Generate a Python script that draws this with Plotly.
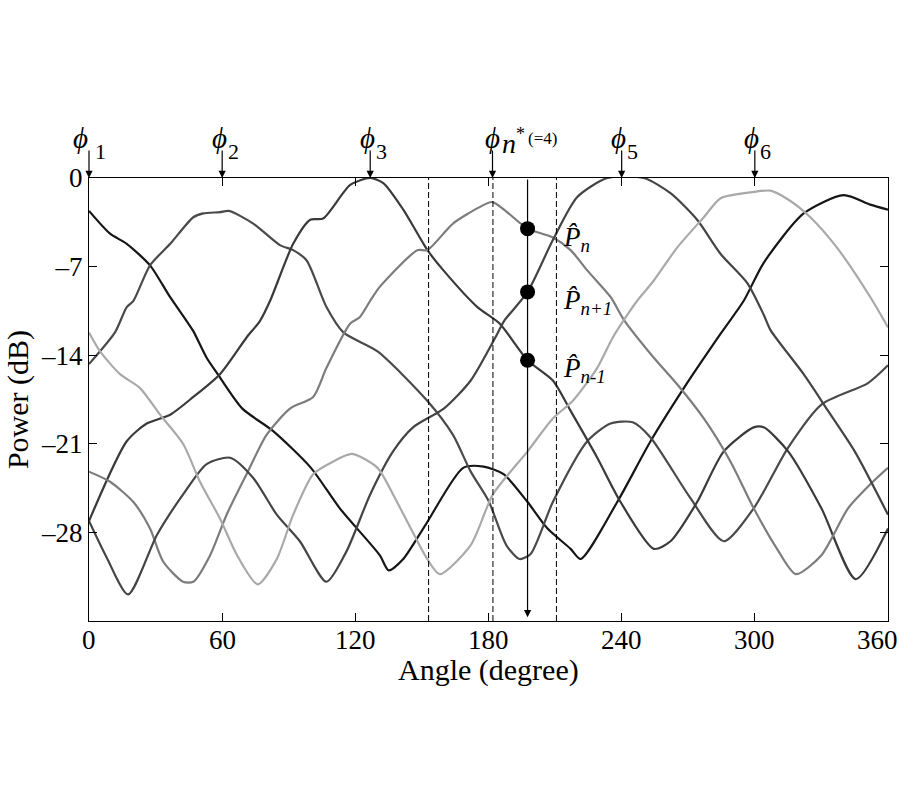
import plotly.graph_objects as go

# ---------------- data ----------------
k_x = [0, 9.5, 17, 27.5, 36.5, 44, 47, 53, 58, 69, 83, 100, 113, 131, 135, 141.6, 152, 168.6, 177.8, 186.8, 197.6, 206.6, 217, 221.5, 238, 253, 268, 284.6, 295, 304, 322, 340, 352, 360]
k_y = [-2.6, -4.4, -5.2, -6.9, -9.4, -11.3, -12.1, -14.2, -15.5, -18.2, -20, -22.9, -26.1, -29.8, -31.0, -30.1, -27.3, -22.9, -22.8, -23.4, -25.6, -27.7, -29.3, -30.1, -25.6, -20.8, -16.6, -12.3, -9.7, -6.7, -2.8, -1.35, -2.1, -2.5]

a_x = [0, 11.7, 17, 20, 27.5, 36.6, 47, 51.5, 59, 63, 74, 86, 92, 98, 107, 114.6, 130, 152.4, 164, 172, 180, 188, 194, 199, 209, 224.5, 235, 245, 253, 271, 286, 299.5, 315, 330, 351, 360]
a_y = [-14.7, -12.2, -10.2, -9.7, -6.9, -5.2, -3.1, -2.8, -2.7, -2.6, -3.6, -5.3, -5.7, -6.5, -10.2, -12.2, -13.7, -17.6, -20.3, -23.2, -25.5, -29.0, -30.1, -29.7, -25.6, -20.8, -19.4, -19.3, -20.5, -25.3, -28.7, -26.1, -21.3, -17.9, -16.2, -14.8]

b_x = [0, 17, 26, 36.6, 47, 59, 71, 77, 81.6, 92, 99.7, 105.5, 117.7, 126.7, 132.6, 141.6, 152.5, 159.7, 175, 185, 197.6, 209, 217, 229, 239.5, 254.5, 262, 274, 286, 299.5, 304, 315, 330, 345.5, 360]
b_y = [-27.1, -20.8, -19.4, -18.7, -17.3, -15.5, -12.6, -11.3, -9.7, -5.2, -3.3, -3.2, -0.55, 0, -0.4, -2.5, -5.7, -7.3, -10.2, -11.5, -14.4, -16, -18.4, -22.1, -25.6, -29.3, -28.7, -25.6, -21.6, -19.7, -19.7, -21.6, -26.1, -31.7, -27.7]

c_x = [0, 9.5, 20, 27.5, 33.4, 42.4, 47, 54.6, 62, 71, 80, 90.7, 101, 107, 117.7, 122, 126.7, 131, 148, 152.4, 164, 176, 181.8, 197.6, 209, 217, 224.5, 235, 241, 254.5, 265, 277, 289, 299.5, 310, 318.5, 330, 342, 352, 360]
c_y = [-23.2, -24, -25.6, -27.7, -30.3, -31.9, -31.9, -29.8, -26.6, -23.4, -20.3, -18.2, -17.3, -15, -11.5, -11, -9.7, -8.6, -5.7, -5.7, -3.6, -2.3, -1.9, -4, -4.7, -5.7, -7.3, -9.4, -11.2, -14.2, -16.3, -19, -22.4, -26.1, -29.3, -31.3, -29.8, -26.1, -24.2, -22.9]

d_x = [0, 8, 17.6, 30.6, 42.4, 53, 63.6, 74, 84.6, 95, 107, 116, 126.7, 137, 146, 160, 172, 184, 187, 197.6, 209, 220, 233.6, 250, 262, 274, 284.6, 296.6, 304, 307, 322, 333, 345, 360]
d_y = [-27.1, -30.0, -32.9, -28.2, -25, -22.6, -22.1, -23.7, -26.6, -28.7, -31.9, -29.5, -25, -21.6, -19.7, -18.2, -16, -12.3, -11.3, -9, -4.9, -1.5, 0, 0, -1.2, -3.3, -6, -8.3, -10.8, -12, -15.5, -18.4, -21.6, -26.6]

e_x = [0, 5, 14, 23, 32, 42.4, 50, 59, 66.7, 76, 84.6, 92, 101, 110, 118.5, 130, 137, 145, 152.4, 158, 172, 182, 197.6, 209, 218, 229, 236, 242.6, 247, 254.5, 265, 277, 284.6, 299.5, 307, 315, 325, 337, 352, 360]
e_y = [-12.2, -13.7, -15.5, -16.6, -18.7, -21, -24, -26.9, -29.8, -32.1, -30.1, -26.6, -23.4, -22.4, -21.8, -22.9, -25, -27.7, -30.1, -31.3, -29, -25, -21.6, -19, -17.6, -15, -12.6, -10.8, -9.7, -8.1, -5.5, -3.1, -1.6, -1.1, -1, -1.7, -3.1, -5.5, -9.4, -11.8]

x_ticks = [0, 60, 120, 180, 240, 300, 360]
x_ticktext = ["0", "60", "120", "180", "240", "300", "360"]
y_ticks = [0, -7, -14, -21, -28]
y_ticktext = ["0", "\u20137", "\u201314", "\u201321", "\u201328"]

phi_pos = [0, 60, 126.7, 181.8, 240, 300]
phi_labels = ["1", "2", "3", "n*", "5", "6"]

dashed_x = [153, 182, 210.6]
sel_x = 197.6
marker_y = [-4.0, -9.0, -14.4]
marker_labels = ["n", "n+1", "n-1"]

# ---------------- figure ----------------
FONT = "Liberation Serif"
fig = go.Figure()

series = [
    (k_x, k_y, "#161616"),
    (a_x, a_y, "#4a4a4a"),
    (b_x, b_y, "#3a3a3a"),
    (c_x, c_y, "#7c7c7c"),
    (d_x, d_y, "#444444"),
    (e_x, e_y, "#a9a9a9"),
]
for xs, ys, col in series:
    fig.add_trace(go.Scatter(x=xs, y=ys, mode="lines",
                             line=dict(color=col, width=2.2, shape="spline", smoothing=0.7),
                             showlegend=False, hoverinfo="skip"))

# markers on the selected angle
fig.add_trace(go.Scatter(x=[sel_x] * len(marker_y), y=marker_y, mode="markers",
                         marker=dict(color="black", size=15),
                         showlegend=False, hoverinfo="skip"))

# dashed vertical lines
for xv in dashed_x:
    fig.add_shape(type="line", xref="x", yref="paper", x0=xv, x1=xv, y0=0, y1=1,
                  line=dict(color="black", width=1, dash="6px,3px"))

annotations = []
# solid vertical arrow at the selected angle
annotations.append(dict(x=sel_x, y=-34.7, ax=sel_x, ay=0, xref="x", yref="y",
                        axref="x", ayref="y", showarrow=True, arrowhead=2,
                        arrowsize=1.2, arrowwidth=1.2, arrowcolor="black", text=""))


def txt(xv, text, xs, ys, size, anchor="center"):
    return dict(x=xv, y=0, xref="x", yref="y", showarrow=False,
                xanchor=anchor, yanchor="middle", xshift=xs, yshift=ys,
                text=text, font=dict(family=FONT, size=size, color="black"))


# top arrows and phi labels
for i, (xp, lab) in enumerate(zip(phi_pos, phi_labels)):
    annotations.append(dict(x=xp, y=0, xref="x", yref="y", ax=0, ay=-29,
                            showarrow=True, arrowhead=2, arrowsize=1.2,
                            arrowwidth=1.2, arrowcolor="black", text=""))
    if lab == "n*":
        annotations.append(txt(xp, "<i>\u03d5</i>", -10, 40, 29, "left"))
        annotations.append(txt(xp, "<i>n</i>", 7, 35, 28, "left"))
        annotations.append(txt(xp, "*", 21, 44, 18, "left"))
        annotations.append(txt(xp, "(=4)", 33, 40, 17, "left"))
    else:
        annotations.append(txt(xp, "<i>\u03d5</i>", -9 if i == 0 else -3, 40, 29))
        annotations.append(txt(xp, lab, 11, 27, 22))

# P-hat labels
for yv, lab in zip(marker_y, marker_labels):
    annotations.append(dict(x=212.5, y=yv, xref="x", yref="y", showarrow=False,
                            xanchor="left", yanchor="middle", yshift=-10,
                            text="<i>P\u0302</i><sub><i>" + lab + "</i></sub>",
                            font=dict(family=FONT, size=27, color="black")))

# x tick labels, drawn on the x axis scale (the last one kept inside the page)
for xv, tt in zip(x_ticks, x_ticktext):
    last = xv == x_ticks[-1]
    annotations.append(dict(x=xv, y=0, xref="x", yref="paper", showarrow=False,
                            xanchor="right" if last else "center", yanchor="top",
                            xshift=12 if last else 0, yshift=-2,
                            text=tt, font=dict(family=FONT, size=27, color="black")))

# x axis title
annotations.append(dict(x=0.5, y=0, xref="paper", yref="paper", showarrow=False,
                        xanchor="center", yanchor="top", yshift=-30,
                        text="Angle (degree)", font=dict(family=FONT, size=30, color="black")))

fig.update_layout(
    width=900, height=800,
    margin=dict(l=89, r=12, t=178, b=179, autoexpand=False),
    paper_bgcolor="white", plot_bgcolor="white",
    font=dict(family=FONT, color="black"),
    annotations=annotations,
    showlegend=False,
)
fig.update_xaxes(range=[0, 360], tickvals=x_ticks, showticklabels=False,
                 ticks="inside", ticklen=8,
                 tickcolor="black", showline=True, linecolor="black", linewidth=1.2,
                 mirror="ticks", showgrid=False, zeroline=False, automargin=False)
fig.update_yaxes(range=[-35, 0], tickvals=y_ticks, ticktext=y_ticktext, ticks="inside",
                 ticklen=8, tickcolor="black", showline=True, linecolor="black",
                 linewidth=1.2, mirror="ticks", showgrid=False, zeroline=False,
                 automargin=False, ticklabeloverflow="allow",
                 tickfont=dict(family=FONT, size=27, color="black"),
                 title=dict(text="Power (dB)", font=dict(family=FONT, size=30), standoff=3))

# remove the browser's default 8px page margin so the figure sits at (0, 0)
fig.write_html("out.html", config={"displayModeBar": False},
               post_script="document.body.style.margin='0';document.body.style.overflow='hidden';")
